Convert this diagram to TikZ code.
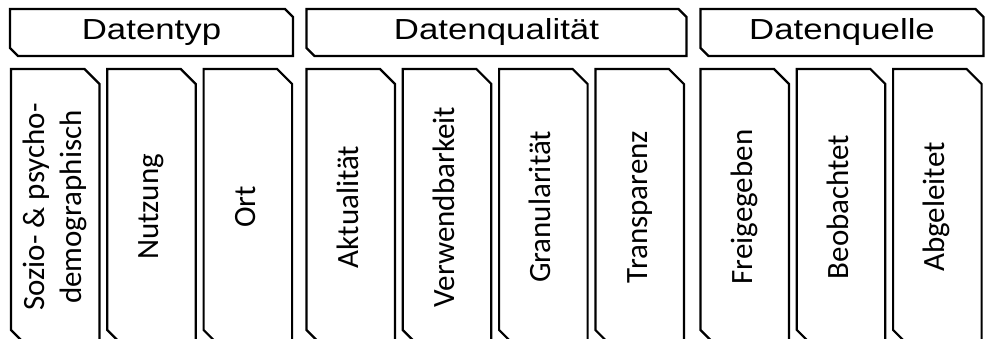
\documentclass[tikz,border=0pt]{standalone}
\usepackage{fontspec}
\newfontfamily\headfont[FakeStretch=1.2]{Liberation Sans}
\newfontfamily\boxfont{Carlito}
\usetikzlibrary{positioning}
\newcommand\cutbox[2]{\draw[frame] (#1.north west) -- ([xshift=-#2]#1.north east) -- ([yshift=-#2]#1.north east)
  -- (#1.south east) -- ([xshift=#2]#1.south west) -- ([yshift=#2]#1.south west) -- cycle;}
\newcommand\vtext[1]{\rotatebox{90}{\begin{tabular}{@{}c@{}}#1\end{tabular}}}

\begin{document}
\begin{tikzpicture}[x=1pt,y=-1pt,node distance=7.8pt,
            frame/.style={line width=2.2pt},
            item/.style={minimum width=88.5pt,minimum height=276pt,inner sep=0pt,outer sep=0pt,
              font=\boxfont\fontsize{31}{37}\selectfont},
            head/.style={minimum height=47pt,inner sep=0pt,outer sep=0pt,
              font=\headfont\fontsize{29}{34}\selectfont}]
            \useasboundingbox (0,0) rectangle (986,339);
            \node[item]                    (T1) at (55.25,207) {\vtext{Sozio- \& psycho-\\demographisch}};
            \node[item, right=of T1]       (T2) {\vtext{Nutzung}};
            \node[item, right=of T2]       (T3) {\vtext{Ort}};
            \node[item, right=14.4pt of T3] (Q1) {\vtext{Aktualität}};
            \node[item, right=of Q1]       (Q2) {\vtext{Verwendbarkeit}};
            \node[item, right=of Q2]       (Q3) {\vtext{Granularität}};
            \node[item, right=of Q3]       (Q4) {\vtext{Transparenz}};
            \node[item, right=16.6pt of Q4] (S1) {\vtext{Freigegeben}};
            \node[item, right=of S1]       (S2) {\vtext{Beobachtet}};
            \node[item, right=of S2]       (S3) {\vtext{Abgeleitet}};

            \node[head, minimum width=283pt, above right=13pt and -1pt of T1.north west] (H1) {Datentyp};
            \node[head, minimum width=380pt, above right=13pt and 0pt of Q1.north west]  (H2) {Datenqualität};
            \node[head, minimum width=283pt, above right=13pt and 0pt of S1.north west]  (H3) {Datenquelle};

            \foreach \n in {T1,T2,T3,Q1,Q2,Q3,Q4,S1,S2,S3} {\cutbox{\n}{15pt}}
            \foreach \n in {H1,H2,H3} {\cutbox{\n}{8pt}}
\end{tikzpicture}
\end{document}
